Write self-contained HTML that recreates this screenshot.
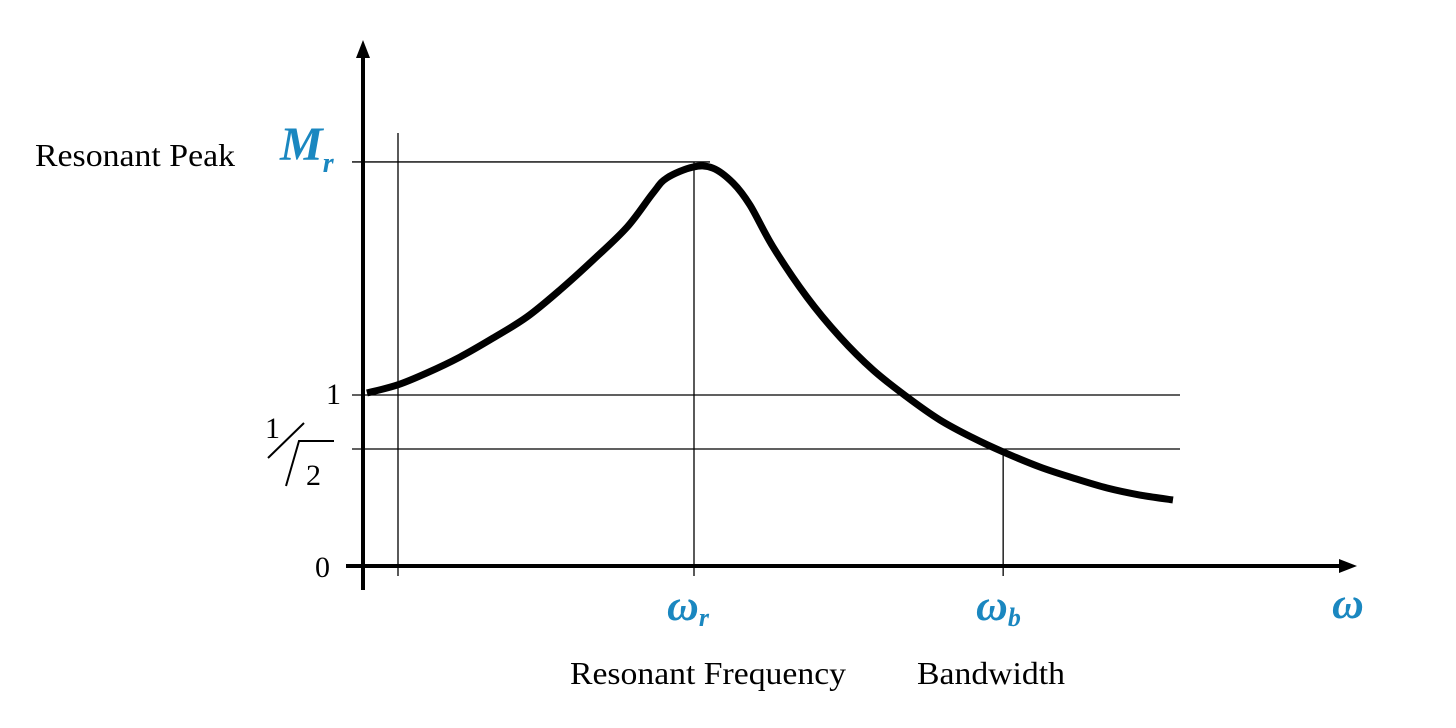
<!DOCTYPE html>
<html><head><meta charset="utf-8"><style>
body{margin:0;background:#fff}
svg{display:block}
text{font-family:"Liberation Serif",serif}
</style></head><body>
<svg width="1456" height="728" viewBox="0 0 1456 728">
<g id="grid" stroke="#000" stroke-width="1.3" fill="none">
  <line x1="398" y1="133" x2="398" y2="576"/>
  <line id="mr-line"/>
  <line id="one-line"/>
  <line id="half-line"/>
  <line id="wr-line"/>
  <line id="wb-line"/>
</g>
<g>
  <line x1="363" y1="52" x2="363" y2="590" stroke="#000" stroke-width="4"/>
  <polygon points="363,40 356,58 370,58" fill="#000"/>
</g>
<g>
  <line x1="346" y1="566" x2="1343" y2="566" stroke="#000" stroke-width="4"/>
  <polygon points="1357,566 1339,559 1339,573" fill="#000"/>
</g>
<path id="curve" fill="none" stroke="#000" stroke-width="7" stroke-linecap="butt" stroke-linejoin="round"/>
<text x="35" y="166" font-size="32" textLength="200" lengthAdjust="spacingAndGlyphs">Resonant Peak</text>
<text x="280" y="160" font-size="48" font-style="italic" font-weight="bold" fill="#1a87c0">M<tspan font-size="28" dy="12">r</tspan></text>
<text x="326" y="404" font-size="30">1</text>
<g>
  <text x="265" y="438" font-size="30">1</text>
  <line x1="268" y1="458" x2="304" y2="423" stroke="#000" stroke-width="2"/>
  <polyline points="286,486 299,441 334,441" fill="none" stroke="#000" stroke-width="2"/>
  <text x="306" y="485" font-size="30">2</text>
</g>
<text x="315" y="577" font-size="30">0</text>
<text x="667" y="620" font-size="44" font-style="italic" font-weight="bold" fill="#1a87c0">ω<tspan font-size="26" dy="6">r</tspan></text>
<text x="976" y="620" font-size="44" font-style="italic" font-weight="bold" fill="#1a87c0">ω<tspan font-size="26" dy="6">b</tspan></text>
<text x="1332" y="618" font-size="44" font-style="italic" font-weight="bold" fill="#1a87c0">ω</text>
<text x="570" y="684" font-size="32" textLength="276" lengthAdjust="spacingAndGlyphs">Resonant Frequency</text>
<text x="917" y="684" font-size="32" textLength="148" lengthAdjust="spacingAndGlyphs">Bandwidth</text>
</svg>
<script>
const omega = [0.012,0.103,0.193,0.293,0.393,0.495,0.595,0.695,0.798,0.876,0.918,0.997,1.057,1.118,1.169,1.239,1.341,1.441,1.541,1.644,1.743,1.843,1.934,2.045,2.145,2.248,2.347,2.447];
const magnitude = [1.012,1.058,1.129,1.222,1.333,1.456,1.614,1.789,1.982,2.181,2.269,2.333,2.327,2.240,2.111,1.865,1.573,1.339,1.146,0.988,0.854,0.749,0.667,0.579,0.515,0.456,0.415,0.386];
const peakValue = 2.363, unityValue = 1.0, halfPowerValue = 0.684;
const resonantOmega = 1.0, bandwidthOmega = 1.934;
const X = w => 363 + w*331;
const Y = m => 566 - m*171;
function setLine(id,x1,y1,x2,y2){const e=document.getElementById(id);e.setAttribute('x1',x1);e.setAttribute('y1',y1);e.setAttribute('x2',x2);e.setAttribute('y2',y2);}
setLine('mr-line',352,Y(peakValue),X(resonantOmega)+16,Y(peakValue));
setLine('one-line',352,Y(unityValue),1180,Y(unityValue));
setLine('half-line',352,Y(halfPowerValue),1180,Y(halfPowerValue));
setLine('wr-line',X(resonantOmega),Y(peakValue),X(resonantOmega),576);
setLine('wb-line',X(bandwidthOmega),Y(halfPowerValue),X(bandwidthOmega),576);
const p = omega.map((w,i)=>[X(w),Y(magnitude[i])]);
let d = `M${p[0][0]},${p[0][1]}`;
for(let i=0;i<p.length-1;i++){
  const p0=p[Math.max(0,i-1)],p1=p[i],p2=p[i+1],p3=p[Math.min(p.length-1,i+2)];
  const c1=[p1[0]+(p2[0]-p0[0])/6,p1[1]+(p2[1]-p0[1])/6];
  const c2=[p2[0]-(p3[0]-p1[0])/6,p2[1]-(p3[1]-p1[1])/6];
  d+=` C${c1[0]},${c1[1]} ${c2[0]},${c2[1]} ${p2[0]},${p2[1]}`;
}
document.getElementById('curve').setAttribute('d',d);
</script>
</body></html>
